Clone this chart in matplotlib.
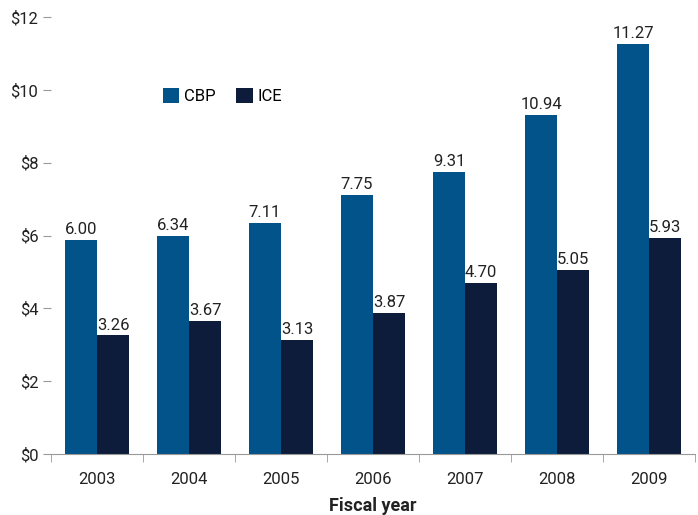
import matplotlib
matplotlib.use("Agg")
import matplotlib.pyplot as plt
import numpy as np

years = ["2003", "2004", "2005", "2006", "2007", "2008", "2009"]
cbp_heights = [5.88, 6.00, 6.34, 7.11, 7.75, 9.31, 11.27]
cbp_labels = [6.00, 6.34, 7.11, 7.75, 9.31, 10.94, 11.27]
ice_values = [3.26, 3.67, 3.13, 3.87, 4.70, 5.05, 5.93]
yticks = [0, 2, 4, 6, 8, 10, 12]
ytick_labels = ["$0", "$2", "$4", "$6", "$8", "$10", "$12"]

plt.rcParams['font.family'] = ['Roboto', 'DejaVu Sans']

CBP_COLOR = "#02538A"
ICE_COLOR = "#0C1C3A"

fig = plt.figure(figsize=(6.98, 5.15), dpi=100)
ax = fig.add_axes([0.073, 0.118, 0.923, 0.849])

x = np.arange(len(years))
w = 0.35
ax.bar(x - w/2, cbp_heights, w, color=CBP_COLOR, label="CBP")
ax.bar(x + w/2, ice_values, w, color=ICE_COLOR, label="ICE")

for xi, h, lab in zip(x, cbp_heights, cbp_labels):
    ax.annotate(f"{lab:.2f}", (xi - w/2, h), xytext=(0, 2), textcoords="offset points",
                ha="center", va="bottom", fontsize=12, color="#222222")
for xi, h in zip(x, ice_values):
    ax.annotate(f"{h:.2f}", (xi + w/2, h), xytext=(0, 2), textcoords="offset points",
                ha="center", va="bottom", fontsize=12, color="#222222")

ax.set_xlim(-0.5, len(years) - 0.5)
ax.set_ylim(0, 12)
ax.set_yticks(yticks)
ax.set_yticklabels(ytick_labels, fontsize=12, color="#222222")
ax.set_xticks(x)
ax.set_xticklabels(years, fontsize=12, color="#222222")
ax.set_xticks(np.arange(-0.5, len(years)), minor=True)
ax.tick_params(axis="x", which="major", length=0, pad=13)
ax.tick_params(axis="x", which="minor", length=6, color="#999999")
ax.tick_params(axis="y", length=6, color="#999999", pad=3)

for s in ["top", "right", "left"]:
    ax.spines[s].set_visible(False)
ax.spines["bottom"].set_color("#999999")

ax.set_xlabel("Fiscal year", fontsize=13, fontweight="bold", color="#222222", labelpad=7)

ax.legend(loc="upper left", bbox_to_anchor=(0.15, 0.872), ncol=2, frameon=False,
          fontsize=12, handlelength=1.0, handleheight=1.0, columnspacing=1.2,
          handletextpad=0.3)

fig.savefig("out.png", dpi=100)
